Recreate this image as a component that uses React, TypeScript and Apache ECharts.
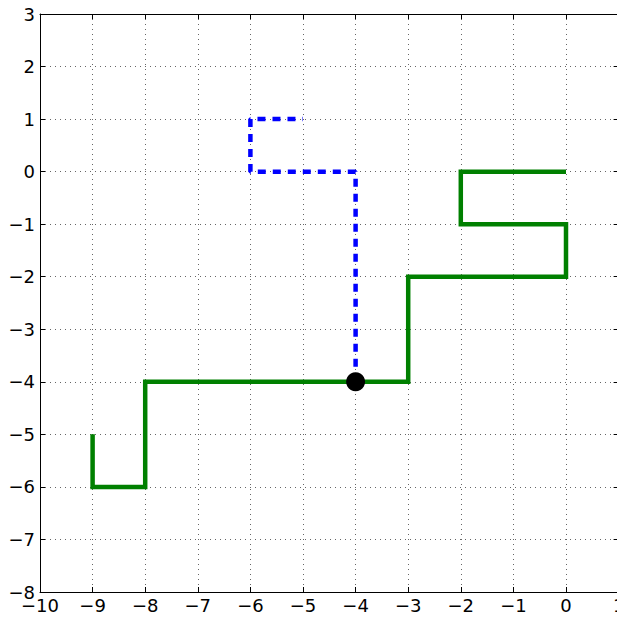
import React, { useEffect, useRef } from "react";
import * as echarts from "echarts";

const xTicks = [-10, 1];
const yTicks = [-8, 3];
const greenX = [-9, -9, -8, -8, -3, -3, 0, 0, -2, -2, 0];
const greenY = [-5, -6, -6, -4, -4, -2, -2, -1, -1, 0, 0];
const blueX = [-4, -4, -6, -6, -5];
const blueY = [-4, 0, 0, 1, 1];
const dotPoint = [-4, -4];

const fmt = (v: number) => String(v).replace("-", "\u2212");

export default function App() {
  const ref = useRef<HTMLDivElement>(null);
  useEffect(() => {
    if (!ref.current) return;
    const chart = echarts.init(ref.current, null, { renderer: "svg" });
    const gridLine = { show: true, lineStyle: { color: "#666", width: 1, type: [1, 4] as any } };
    const axisLine = { show: true, onZero: false, lineStyle: { color: "#000", width: 1 } };
    const axisTick = { show: true, inside: true, length: 5, lineStyle: { color: "#000" } };
    const label = {
      color: "#000",
      fontSize: 18,
      fontFamily: "DejaVu Sans, sans-serif",
      formatter: fmt,
    };
    chart.setOption({
      animation: false,
      backgroundColor: "#fff",
      grid: { left: 40, top: 14, width: 578.6, height: 578 },
      xAxis: [
        {
          type: "value", min: xTicks[0], max: xTicks[1], interval: 1,
          position: "bottom", axisLine, axisTick, splitLine: gridLine,
          axisLabel: { ...label, margin: 4 },
        },
        {
          type: "value", min: xTicks[0], max: xTicks[1], interval: 1,
          position: "top", axisLine, axisTick, splitLine: { show: false },
          axisLabel: { show: false },
        },
      ],
      yAxis: [
        {
          type: "value", min: yTicks[0], max: yTicks[1], interval: 1,
          position: "left", axisLine, axisTick, splitLine: gridLine,
          axisLabel: { ...label, margin: 5 },
        },
        {
          type: "value", min: yTicks[0], max: yTicks[1], interval: 1,
          position: "right", axisLine, axisTick, splitLine: { show: false },
          axisLabel: { show: false },
        },
      ],
      series: [
        {
          type: "line",
          data: greenX.map((x, i) => [x, greenY[i]]),
          showSymbol: false,
          lineStyle: { color: "#008000", width: 4.5, join: "miter", cap: "butt" },
          itemStyle: { color: "#008000" },
          z: 3,
        },
        {
          type: "line",
          data: blueX.map((x, i) => [x, blueY[i]]),
          showSymbol: false,
          lineStyle: { color: "#0000ff", width: 4.5, type: [8, 7] as any, cap: "butt" },
          itemStyle: { color: "#0000ff" },
          z: 4,
        },
        {
          type: "scatter",
          data: [dotPoint],
          symbol: "circle",
          symbolSize: 19,
          itemStyle: { color: "#000", opacity: 1 },
          z: 5,
        },
      ],
    });
    return () => chart.dispose();
  }, []);
  return (
    <div style={{ position: "fixed", left: 0, top: 0, width: 617, height: 617, overflow: "hidden", background: "#fff" }}>
      <div ref={ref} style={{ width: 640, height: 617 }} />
    </div>
  );
}
